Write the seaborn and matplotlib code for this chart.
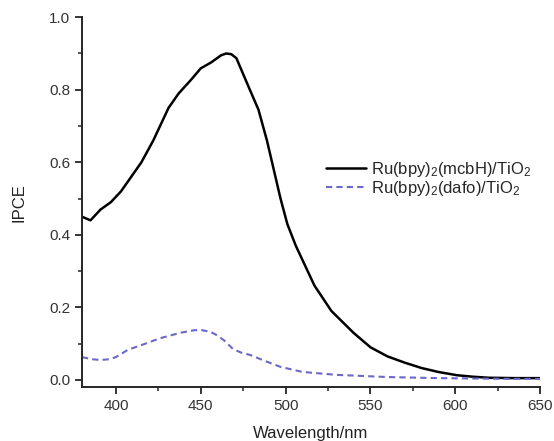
import numpy as np
import pandas as pd
import matplotlib
matplotlib.use('Agg')
import matplotlib.pyplot as plt
from matplotlib.ticker import MultipleLocator
import seaborn as sns

# IPCE spectra
wl_mcbh = [380, 385, 391, 397, 403, 409, 415, 422, 431, 437, 444, 450, 456, 462,
           465, 468, 471, 478, 484, 489, 497, 501, 506, 511, 517, 527, 540, 550,
           560, 570, 580, 590, 601, 610, 620, 635, 650]
ipce_mcbh = [0.45, 0.44, 0.47, 0.49, 0.52, 0.56, 0.60, 0.66, 0.75, 0.79, 0.826, 0.859,
             0.875, 0.895, 0.90, 0.898, 0.887, 0.81, 0.745, 0.66, 0.50, 0.43, 0.37,
             0.32, 0.26, 0.19, 0.13, 0.09, 0.065, 0.048, 0.033, 0.022, 0.013, 0.009,
             0.006, 0.005, 0.005]

wl_dafo = [380, 386, 391, 396, 400, 407, 415, 426, 438, 446, 450, 456, 460, 464, 469,
           474, 479, 488, 497, 510, 530, 560, 590, 628, 650]
ipce_dafo = [0.063, 0.057, 0.055, 0.057, 0.063, 0.083, 0.096, 0.115, 0.13, 0.137,
             0.138, 0.132, 0.122, 0.108, 0.085, 0.075, 0.069, 0.052, 0.036, 0.022,
             0.014, 0.008, 0.005, 0.003, 0.003]

label_mcbh = r'Ru(bpy)$_2$(mcbH)/TiO$_2$'
label_dafo = r'Ru(bpy)$_2$(dafo)/TiO$_2$'

sns.set_style('ticks')
plt.rcParams['font.family'] = ['Liberation Sans', 'DejaVu Sans']
plt.rcParams['mathtext.fontset'] = 'custom'
plt.rcParams['mathtext.rm'] = 'Liberation Sans'
plt.rcParams['mathtext.it'] = 'Liberation Sans'

fig = plt.figure(figsize=(5.54, 4.41), dpi=100)
ax = fig.add_axes([0.148, 0.122, 0.827, 0.839])

df1 = pd.DataFrame({'wl': wl_mcbh, 'ipce': ipce_mcbh})
df2 = pd.DataFrame({'wl': wl_dafo, 'ipce': ipce_dafo})
sns.lineplot(data=df1, x='wl', y='ipce', ax=ax, color='black', lw=1.8, label=label_mcbh)
sns.lineplot(data=df2, x='wl', y='ipce', ax=ax, color='#6a68c8', lw=1.5,
             linestyle=(0, (3, 2)), label=label_dafo)

ax.set_xlim(380, 650)
ax.set_ylim(-0.02, 1.0)
ax.xaxis.set_major_locator(MultipleLocator(50))
ax.xaxis.set_minor_locator(MultipleLocator(25))
ax.yaxis.set_major_locator(MultipleLocator(0.2))
ax.yaxis.set_minor_locator(MultipleLocator(0.1))
ax.yaxis.set_major_formatter(matplotlib.ticker.FormatStrFormatter('%.1f'))
ax.tick_params(which='major', direction='out', length=5, width=1.3, labelsize=11,
               labelcolor='#333333')
ax.tick_params(which='minor', direction='out', length=3, width=1.1)

sns.despine(ax=ax)
for s in ['left', 'bottom']:
    ax.spines[s].set_linewidth(1.4)

ax.set_xlabel('Wavelength/nm', fontsize=12, color='#222222', labelpad=9)
ax.set_ylabel('IPCE', fontsize=12, color='#222222', labelpad=16)

ax.legend(loc='upper left', bbox_to_anchor=(0.50, 0.655), frameon=False,
          fontsize=12, handlelength=2.4, handletextpad=0.3, labelspacing=0.02)

fig.savefig('out.png', dpi=100)
